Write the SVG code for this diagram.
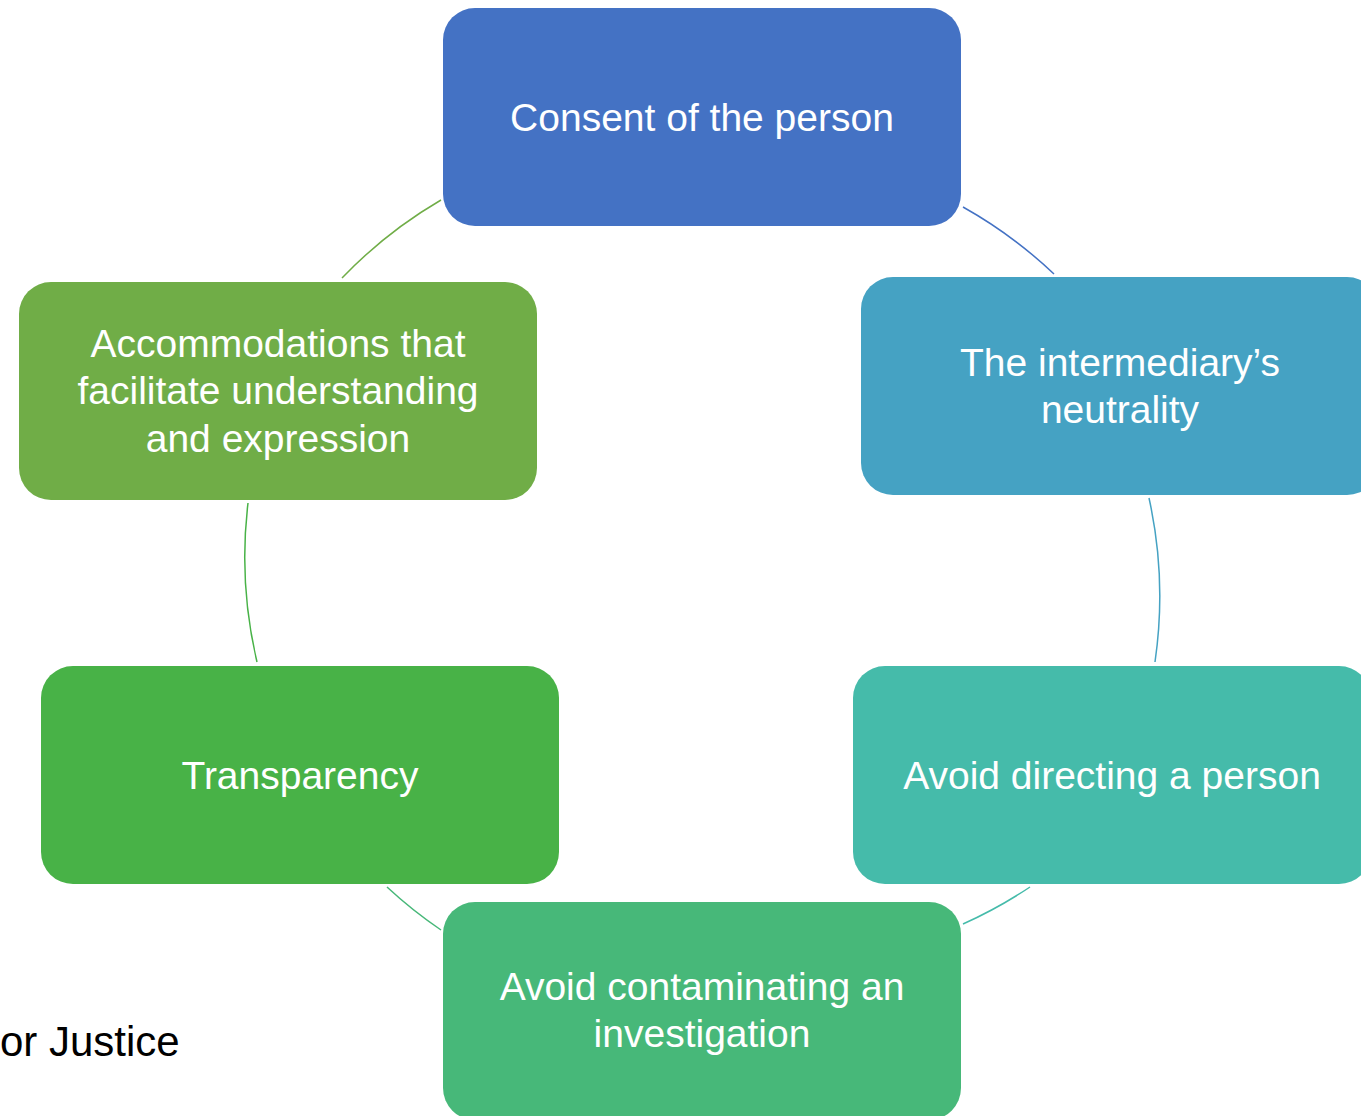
<svg xmlns="http://www.w3.org/2000/svg" width="1361" height="1116" viewBox="0 0 1361 1116">
<style>
.node rect{stroke:none}
.lbl{font-family:"Liberation Sans",Arial,sans-serif;font-size:39px;fill:#ffffff;text-anchor:middle}
.arc{fill:none;stroke-width:1.5}
</style>
<rect width="1361" height="1116" fill="#ffffff"/>
<g id="connectors">
<path class="arc" stroke="#4472C4" d="M963,207 A455,455 0 0 1 1054,274"/>
<path class="arc" stroke="#45A2C3" d="M1149,498 A455,455 0 0 1 1155,662"/>
<path class="arc" stroke="#45BBAA" d="M1030,887 A455,455 0 0 1 963,924"/>
<path class="arc" stroke="#47B879" d="M441,930 A455,455 0 0 1 387,887"/>
<path class="arc" stroke="#48B247" d="M257,662 A455,455 0 0 1 248,503"/>
<path class="arc" stroke="#70AD47" d="M342,278 A455,455 0 0 1 441,200"/>
</g>
<g id="node-consent" class="node">
<rect x="443" y="8" width="518" height="218" rx="32" fill="#4472C4"/>
<text class="lbl" x="702" y="131">Consent of the person</text>
</g>
<g id="node-neutrality" class="node">
<rect x="861" y="277" width="518" height="218" rx="32" fill="#45A2C3"/>
<text class="lbl" x="1120" y="376">The intermediary’s</text>
<text class="lbl" x="1120" y="423">neutrality</text>
</g>
<g id="node-directing" class="node">
<rect x="853" y="666" width="518" height="218" rx="32" fill="#45BBAA"/>
<text class="lbl" x="1112" y="789">Avoid directing a person</text>
</g>
<g id="node-contaminating" class="node">
<rect x="443" y="902" width="518" height="218" rx="32" fill="#47B879"/>
<text class="lbl" x="702" y="1000">Avoid contaminating an</text>
<text class="lbl" x="702" y="1047">investigation</text>
</g>
<g id="node-transparency" class="node">
<rect x="41" y="666" width="518" height="218" rx="32" fill="#48B247"/>
<text class="lbl" x="300" y="789">Transparency</text>
</g>
<g id="node-accommodations" class="node">
<rect x="19" y="282" width="518" height="218" rx="32" fill="#70AD47"/>
<text class="lbl" x="278" y="357">Accommodations that</text>
<text class="lbl" x="278" y="404">facilitate understanding</text>
<text class="lbl" x="278" y="452">and expression</text>
</g>
<text x="0" y="1056" font-family="Liberation Sans, Arial, sans-serif" font-size="42" fill="#000000">or Justice</text>
</svg>
